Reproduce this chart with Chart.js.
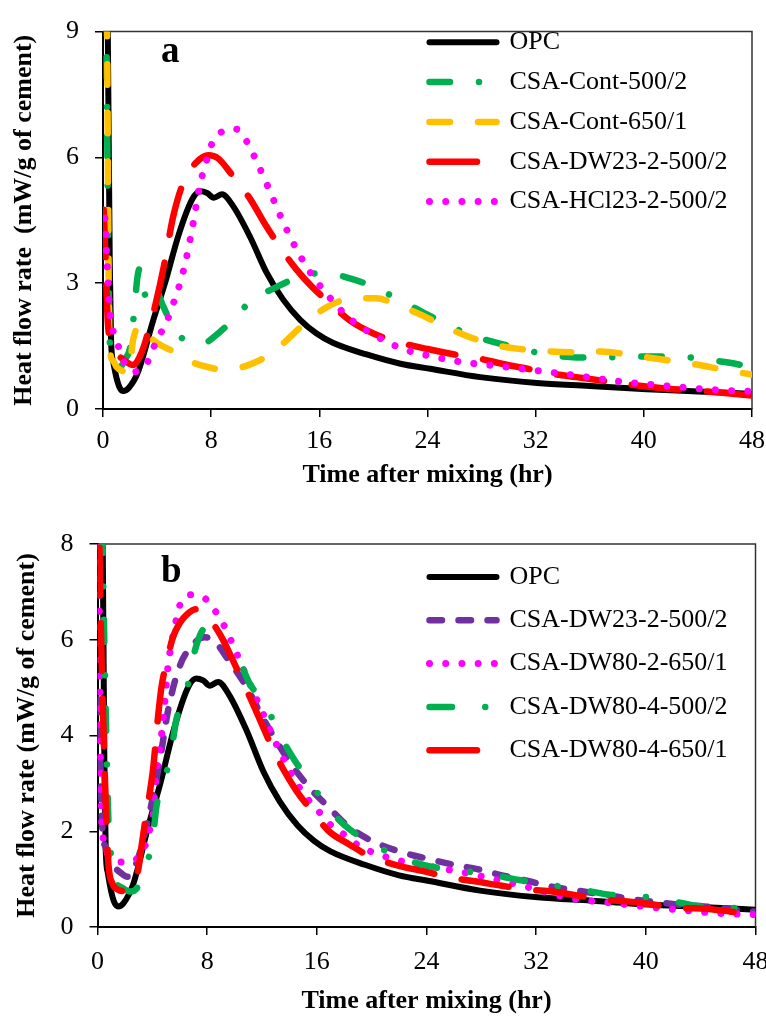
<!DOCTYPE html>
<html>
<head>
<meta charset="utf-8">
<title>Heat flow rate</title>
<script src="https://cdn.jsdelivr.net/npm/chart.js@4.4.1/dist/chart.umd.min.js"></script>
<style>
  html, body { margin: 0; padding: 0; background: #fff; overflow: hidden; width: 766px; height: 1018px; }
  canvas { position: absolute; left: 0; }
  #chartA { top: 0; }
  #chartB { top: 500px; }
</style>
</head>
<body>
<canvas id="chartA" width="780" height="500"></canvas>
<canvas id="chartB" width="780" height="518"></canvas>
<script>
// Values: time after mixing (hr) and heat flow (mW/g of cement)
const xTicks = [0, 8, 16, 24, 32, 40, 48];

// OPC (same curve in both panels)
const opcTime = [0.1, 0.35, 0.5, 0.6, 0.76, 1.0, 1.25, 1.5, 1.9, 2.6, 3.7, 4.6, 5.6, 6.6, 7.2, 7.7, 8.2, 8.8, 9.6, 10.9, 12.1, 13.3, 14.6, 15.8, 17, 19.5, 22, 24.2, 27.9, 32.1, 36, 40.2, 44, 48];
const opcFlow = [15, 9.2, 3.5, 1.6, 1.12, 0.74, 0.5, 0.43, 0.5, 0.89, 2.1, 3.02, 4.16, 5.0, 5.19, 5.15, 5.04, 5.12, 4.85, 4.09, 3.25, 2.62, 2.12, 1.8, 1.58, 1.3, 1.08, 0.96, 0.76, 0.62, 0.55, 0.47, 0.42, 0.36];

// panel a
const cont500Time = [0.1, 0.25, 0.4, 0.5, 0.75, 1.0, 1.3, 1.65, 2.0, 2.3, 2.55, 2.74, 2.96, 3.3, 3.7, 4.45, 5.25, 6.0, 7.0, 7.6, 8.4, 9.8, 11.0, 12.6, 14.3, 16.3, 18.0, 19.9, 21.7, 23.7, 25.4, 27.1, 29.0, 30.8, 32.7, 35.0, 37.0, 39.5, 42.6, 44.3, 46.0, 48];
const cont500Flow = [14, 9, 3.5, 1.6, 1.2, 1.05, 1.02, 1.2, 1.46, 2.3, 3.15, 3.36, 2.88, 2.66, 2.95, 2.45, 1.92, 1.65, 1.55, 1.58, 1.77, 2.19, 2.6, 2.87, 3.12, 3.25, 3.14, 2.93, 2.64, 2.3, 2.03, 1.77, 1.59, 1.44, 1.31, 1.23, 1.23, 1.25, 1.25, 1.19, 1.12, 1.0];

const cont650Time = [0.1, 0.3, 0.42, 0.52, 0.75, 1.0, 1.5, 1.85, 2.05, 2.2, 2.6, 2.9, 3.3, 3.7, 4.4, 5.1, 6.0, 6.7, 7.5, 8.4, 9.3, 10.3, 11.5, 12.6, 14.0, 15.3, 16.9, 18.5, 20.2, 22.0, 23.7, 25.3, 27.0, 28.8, 30.6, 32.3, 35.0, 36.8, 38.6, 40.3, 42.2, 43.9, 46.0, 48];
const cont650Flow = [14, 9, 3, 1.4, 1.15, 1.0, 0.9, 0.86, 1.2, 1.6, 1.97, 2.0, 1.8, 1.65, 1.5, 1.39, 1.2, 1.1, 1.02, 0.96, 0.97, 1.0, 1.15, 1.35, 1.77, 2.15, 2.49, 2.64, 2.64, 2.45, 2.22, 1.96, 1.73, 1.54, 1.44, 1.39, 1.35, 1.37, 1.31, 1.23, 1.14, 1.06, 0.93, 0.82];

// CSA-DW23-2-500/2 (red in a, purple in b)
const dw23Time = [0.05, 0.2, 0.35, 0.6, 1.0, 1.75, 2.2, 2.86, 3.4, 3.85, 4.5, 5.2, 6.0, 6.9, 7.8, 8.5, 9.5, 10.9, 12.0, 13.2, 14.3, 15.5, 16.9, 18.3, 20.0, 22.0, 24.0, 26.0, 27.7, 29.5, 31.4, 33.0, 35.0, 37.3, 38.8, 40.7, 42.7, 44.2, 46.0, 48];
const dw23Flow = [4.75, 3.5, 2.1, 1.65, 1.35, 1.12, 1.05, 1.35, 1.9, 2.45, 3.4, 4.6, 5.45, 5.88, 6.05, 5.98, 5.6, 5.0, 4.4, 3.81, 3.33, 2.9, 2.49, 2.1, 1.8, 1.58, 1.43, 1.3, 1.21, 1.08, 0.96, 0.85, 0.76, 0.66, 0.59, 0.52, 0.46, 0.43, 0.38, 0.32];

const hcl23Time = [0.15, 0.3, 0.52, 0.76, 1.13, 1.5, 2.0, 2.37, 2.8, 3.23, 3.67, 4.2, 4.7, 5.1, 5.5, 6.1, 6.56, 7.17, 7.8, 8.16, 9.0, 9.6, 10.0, 10.67, 11.24, 12.2, 13.1, 14.1, 15.26, 16.66, 18.27, 20.24, 22.3, 24.7, 26.95, 28.2, 31.7, 34.5, 38.1, 41.7, 45.6, 48];
const hcl23Flow = [4.55, 3.5, 2.26, 1.84, 1.5, 1.16, 0.95, 0.89, 0.95, 1.08, 1.42, 1.77, 2.07, 2.43, 2.79, 3.5, 4.24, 5.34, 6.07, 6.41, 6.64, 6.68, 6.66, 6.36, 5.99, 5.3, 4.62, 3.94, 3.29, 2.7, 2.15, 1.73, 1.42, 1.23, 1.1, 1.06, 0.93, 0.82, 0.66, 0.55, 0.45, 0.42];

// panel b
const dw80_2_650Time = [0.05, 0.18, 0.35, 0.9, 1.7, 2.3, 2.85, 3.45, 3.81, 4.05, 4.3, 4.66, 4.9, 5.14, 5.5, 6.2, 6.96, 7.9, 8.66, 9.26, 9.75, 10.7, 12.16, 13.13, 14.83, 16.33, 17.12, 18.1, 19.06, 21.2, 24.6, 26.9, 28.0, 31.0, 34.55, 37.9, 41.6, 45.7, 48];
const dw80_2_650Flow = [11, 4.6, 2.0, 1.51, 1.36, 1.36, 1.42, 1.68, 2.03, 2.35, 3.22, 3.98, 4.68, 5.44, 6.07, 6.85, 6.94, 6.85, 6.57, 6.28, 5.98, 5.35, 4.4, 3.77, 2.87, 2.35, 2.1, 1.91, 1.7, 1.45, 1.25, 1.13, 1.06, 0.86, 0.6, 0.49, 0.38, 0.28, 0.26];

const dw80_4_500Time = [0.15, 0.4, 0.6, 0.8, 1.0, 1.27, 1.8, 2.4, 2.85, 3.09, 3.4, 3.69, 4.05, 4.3, 4.9, 5.39, 5.75, 6.48, 6.84, 7.44, 8.17, 8.8, 9.5, 10.23, 11.07, 12.3, 13.25, 14.34, 15.56, 16.76, 18.34, 20.03, 21.9, 24.15, 26.3, 28.4, 30.4, 32.5, 35.3, 37.46, 39.6, 41.6, 43.7, 46.3, 48];
const dw80_4_500Flow = [12, 7.5, 4.5, 2.2, 1.45, 0.99, 0.82, 0.74, 0.8, 0.99, 1.15, 1.4, 1.89, 2.52, 3.08, 3.69, 4.33, 4.89, 5.46, 6.07, 6.32, 6.1, 5.88, 5.64, 5.1, 4.61, 4.04, 3.5, 3.01, 2.51, 2.05, 1.75, 1.47, 1.27, 1.18, 1.11, 1.0, 0.9, 0.78, 0.67, 0.64, 0.56, 0.44, 0.4, 0.36];

const dw80_4_650Time = [0.05, 0.25, 0.45, 0.65, 0.8, 1.1, 1.5, 2.0, 2.5, 2.94, 3.21, 3.5, 3.81, 4.05, 4.42, 4.66, 5.1, 5.5, 6.0, 6.6, 7.2, 7.8, 8.4, 9.02, 9.86, 11.2, 12.65, 13.5, 14.5, 15.56, 16.88, 18.4, 19.9, 21.73, 24.0, 25.96, 27.65, 29.5, 31.5, 33.2, 35.2, 37.1, 38.8, 40.7, 42.5, 44.4, 46.2, 48];
const dw80_4_650Flow = [9.5, 6.2, 4.0, 2.2, 1.3, 0.9, 0.78, 0.75, 0.85, 1.15, 1.68, 2.25, 2.8, 3.29, 4.4, 5.0, 5.6, 6.05, 6.35, 6.55, 6.64, 6.55, 6.35, 6.07, 5.58, 4.75, 3.81, 3.32, 2.85, 2.45, 2.0, 1.72, 1.47, 1.3, 1.15, 1.02, 0.95, 0.86, 0.78, 0.74, 0.65, 0.57, 0.53, 0.46, 0.4, 0.38, 0.32, 0.26];

const SERIF = "'Liberation Serif', 'Times New Roman', serif";
Chart.defaults.font.family = SERIF;
Chart.defaults.color = '#000';

const pts = (t, v) => t.map((x, i) => ({ x: x, y: v[i] }));

// line looks (Excel style dashes, round caps)
const solid = { borderDash: [] };
const dashDotA = { borderDash: [20.5, 29, 0.01, 29] };
const dashA = { borderDash: [20.5, 28] };
const longDash = { borderDash: [47.5, 28] };
const roundDot = { borderDash: [0.01, 16.2] };
const shortDash = { borderDash: [12.5, 16.5] };
const dashDotB = { borderDash: [22.5, 33.25, 0.01, 33.25] };

function series(label, t, v, color, width, look, n, i) {
  return Object.assign({
    label: label,
    data: pts(t, v),
    borderColor: color,
    backgroundColor: color,
    borderWidth: width,
    borderCapStyle: 'round',
    borderJoinStyle: 'round',
    pointRadius: 0,
    cubicInterpolationMode: 'monotone',
    fill: false,
    order: n - 1 - i   // later series drawn on top, as in the original
  }, look);
}

// move the legend to the spot it has in the original plot
const legendSpot = {
  id: 'legendSpot',
  afterLayout(chart, args, opts) {
    const lg = chart.legend;
    lg.left = opts.left;
    lg.top = opts.top;
    lg.right = opts.left + lg.width;
    lg.bottom = opts.top + 400;
  }
};

// box around plot area + panel letter
const frame = {
  id: 'frame',
  beforeDatasetsDraw(chart) {
    const { ctx, chartArea: a } = chart;
    ctx.save();
    ctx.strokeStyle = '#333';
    ctx.lineWidth = 1.5;
    ctx.beginPath();
    ctx.moveTo(a.left, a.top);
    ctx.lineTo(a.right, a.top);
    ctx.lineTo(a.right, a.bottom);
    ctx.stroke();
    ctx.restore();
  },
  afterDraw(chart, args, opts) {
    const ctx = chart.ctx;
    ctx.save();
    ctx.fillStyle = '#000';
    ctx.font = 'bold 37px ' + SERIF;
    ctx.textAlign = 'left';
    ctx.textBaseline = 'alphabetic';
    ctx.fillText(opts.letter, opts.x, opts.y);
    ctx.restore();
  }
};

function makeChart(id, datasets, o) {
  const tickFont = { family: SERIF, size: 26 };
  const titleFont = { family: SERIF, size: 26, weight: 'bold' };
  const tickGrid = { display: true, drawOnChartArea: false, drawTicks: true, tickLength: 8, color: '#000', lineWidth: 1.5 };
  return new Chart(document.getElementById(id), {
    type: 'line',
    data: { datasets: datasets },
    options: {
      responsive: false,
      animation: false,
      layout: { padding: { left: 0, top: o.padTop, right: o.padRight, bottom: 0 } },
      scales: {
        x: {
          type: 'linear', min: 0, max: 48,
          afterBuildTicks: s => { s.ticks = xTicks.map(v => ({ value: v })); },
          ticks: { font: tickFont, color: '#000', padding: o.xTickPad, maxRotation: 0, autoSkip: false },
          grid: tickGrid,
          border: { display: true, color: '#000', width: 2 },
          title: { display: true, text: 'Time after mixing (hr)', color: '#000', font: titleFont, padding: { top: 0, bottom: o.xTitlePad } },
          afterFit: s => { s.height = 91; }
        },
        y: {
          type: 'linear', min: 0, max: o.yMax,
          ticks: { stepSize: o.yStep, font: tickFont, color: '#000', padding: 16 },
          grid: tickGrid,
          border: { display: true, color: '#000', width: 2 },
          title: { display: true, text: o.yTitle, color: '#000', font: titleFont, padding: { top: o.yTitlePad, bottom: 0 } },
          afterFit: s => { s.width = o.yWidth; }
        }
      },
      plugins: {
        tooltip: { enabled: false },
        legend: {
          display: true,
          position: 'chartArea',
          align: 'start',
          labels: {
            font: { family: SERIF, size: 26 },
            color: '#000',
            usePointStyle: true,
            pointStyleWidth: 67,
            padding: o.legendGap,
            generateLabels: chart => chart.data.datasets.map((ds, i) => ({
              text: ds.label,
              fillStyle: ds.borderColor,
              strokeStyle: ds.borderColor,
              fontColor: '#000',
              lineWidth: ds.borderWidth,
              lineDash: ds.borderDash,
              lineCap: 'round',
              pointStyle: 'line',
              hidden: false,
              datasetIndex: i
            }))
          }
        },
        legendSpot: { left: 429.5 - o.legendGap, top: o.legendTop },
        frame: { letter: o.letter, x: 161, y: o.letterY }
      }
    },
    plugins: [legendSpot, frame]
  });
}

const setA = [
  ['OPC', opcTime, opcFlow, '#000000', 6, solid],
  ['CSA-Cont-500/2', cont500Time, cont500Flow, '#00B050', 6.5, dashDotA],
  ['CSA-Cont-650/1', cont650Time, cont650Flow, '#FFC000', 6.5, dashA],
  ['CSA-DW23-2-500/2', dw23Time, dw23Flow, '#FF0000', 6.5, longDash],
  ['CSA-HCl23-2-500/2', hcl23Time, hcl23Flow, '#FF00FF', 7, roundDot]
];
const setB = [
  ['OPC', opcTime, opcFlow, '#000000', 6, solid],
  ['CSA-DW23-2-500/2', dw23Time, dw23Flow, '#7030A0', 6.5, shortDash],
  ['CSA-DW80-2-650/1', dw80_2_650Time, dw80_2_650Flow, '#FF00FF', 7, roundDot],
  ['CSA-DW80-4-500/2', dw80_4_500Time, dw80_4_500Flow, '#00B050', 6.5, dashDotB],
  ['CSA-DW80-4-650/1', dw80_4_650Time, dw80_4_650Flow, '#FF0000', 6.5, longDash]
];

const chartA = makeChart('chartA', setA.map((s, i) => series(s[0], s[1], s[2], s[3], s[4], s[5], setA.length, i)), {
  padTop: 15, padRight: 28, yMax: 9, yStep: 3, yWidth: 103,
  yTitle: 'Heat flow rate  (mW/g of cement)', yTitlePad: 8.5,
  xTickPad: 8.5, xTitlePad: 9.4,
  legendGap: 13.8, legendTop: 15.5, letter: 'a', letterY: 62
});

const chartB = makeChart('chartB', setB.map((s, i) => series(s[0], s[1], s[2], s[3], s[4], s[5], setB.length, i)), {
  padTop: 44, padRight: 21.5, yMax: 8, yStep: 2, yWidth: 97.5,
  yTitle: 'Heat flow rate (mW/g of cement)', yTitlePad: 11.5,
  xTickPad: 11.5, xTitlePad: 1.4,
  legendGap: 17.3, legendTop: 46.7, letter: 'b', letterY: 81.7
});
</script>
</body>
</html>
